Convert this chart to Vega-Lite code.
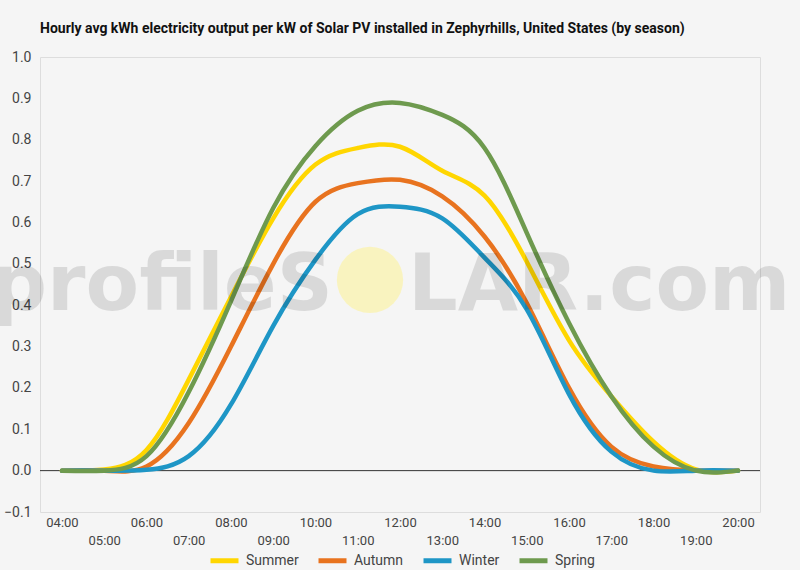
{
  "$schema": "https://vega.github.io/schema/vega-lite/v6.json",
  "width": 720,
  "height": 455,
  "autosize": "none",
  "padding": {"left": 40, "top": 57, "right": 40, "bottom": 58},
  "background": "#f5f5f5",
  "title": {
    "text": "Hourly avg kWh electricity output per kW of Solar PV installed in Zephyrhills, United States (by season)",
    "anchor": "start",
    "frame": "group",
    "font": "Roboto",
    "fontSize": 14,
    "fontWeight": "bold",
    "color": "#111111",
    "offset": 14
  },
  "datasets": {
    "solar": [
      {"hour": 4, "season": "Summer", "kwh": 0},
      {"hour": 5, "season": "Summer", "kwh": 0.003},
      {"hour": 6, "season": "Summer", "kwh": 0.05},
      {"hour": 7, "season": "Summer", "kwh": 0.22},
      {"hour": 8, "season": "Summer", "kwh": 0.42},
      {"hour": 9, "season": "Summer", "kwh": 0.61},
      {"hour": 10, "season": "Summer", "kwh": 0.74},
      {"hour": 11, "season": "Summer", "kwh": 0.78},
      {"hour": 12, "season": "Summer", "kwh": 0.783},
      {"hour": 13, "season": "Summer", "kwh": 0.725},
      {"hour": 14, "season": "Summer", "kwh": 0.665},
      {"hour": 15, "season": "Summer", "kwh": 0.505},
      {"hour": 16, "season": "Summer", "kwh": 0.315},
      {"hour": 17, "season": "Summer", "kwh": 0.18},
      {"hour": 18, "season": "Summer", "kwh": 0.07},
      {"hour": 19, "season": "Summer", "kwh": 0.003},
      {"hour": 20, "season": "Summer", "kwh": 0},
      {"hour": 4, "season": "Autumn", "kwh": 0},
      {"hour": 5, "season": "Autumn", "kwh": 0},
      {"hour": 6, "season": "Autumn", "kwh": 0.01},
      {"hour": 7, "season": "Autumn", "kwh": 0.115},
      {"hour": 8, "season": "Autumn", "kwh": 0.3},
      {"hour": 9, "season": "Autumn", "kwh": 0.5},
      {"hour": 10, "season": "Autumn", "kwh": 0.65},
      {"hour": 11, "season": "Autumn", "kwh": 0.695},
      {"hour": 12, "season": "Autumn", "kwh": 0.703},
      {"hour": 13, "season": "Autumn", "kwh": 0.663},
      {"hour": 14, "season": "Autumn", "kwh": 0.566},
      {"hour": 15, "season": "Autumn", "kwh": 0.405},
      {"hour": 16, "season": "Autumn", "kwh": 0.2},
      {"hour": 17, "season": "Autumn", "kwh": 0.058},
      {"hour": 18, "season": "Autumn", "kwh": 0.01},
      {"hour": 19, "season": "Autumn", "kwh": 0},
      {"hour": 20, "season": "Autumn", "kwh": 0},
      {"hour": 4, "season": "Winter", "kwh": 0},
      {"hour": 5, "season": "Winter", "kwh": 0},
      {"hour": 6, "season": "Winter", "kwh": 0.002},
      {"hour": 7, "season": "Winter", "kwh": 0.035},
      {"hour": 8, "season": "Winter", "kwh": 0.16},
      {"hour": 9, "season": "Winter", "kwh": 0.35},
      {"hour": 10, "season": "Winter", "kwh": 0.51},
      {"hour": 11, "season": "Winter", "kwh": 0.62},
      {"hour": 12, "season": "Winter", "kwh": 0.638},
      {"hour": 13, "season": "Winter", "kwh": 0.61},
      {"hour": 14, "season": "Winter", "kwh": 0.515},
      {"hour": 15, "season": "Winter", "kwh": 0.39},
      {"hour": 16, "season": "Winter", "kwh": 0.185},
      {"hour": 17, "season": "Winter", "kwh": 0.046},
      {"hour": 18, "season": "Winter", "kwh": 0},
      {"hour": 19, "season": "Winter", "kwh": 0},
      {"hour": 20, "season": "Winter", "kwh": 0},
      {"hour": 4, "season": "Spring", "kwh": 0},
      {"hour": 5, "season": "Spring", "kwh": 0},
      {"hour": 6, "season": "Spring", "kwh": 0.035},
      {"hour": 7, "season": "Spring", "kwh": 0.19},
      {"hour": 8, "season": "Spring", "kwh": 0.41},
      {"hour": 9, "season": "Spring", "kwh": 0.635},
      {"hour": 10, "season": "Spring", "kwh": 0.785},
      {"hour": 11, "season": "Spring", "kwh": 0.87},
      {"hour": 12, "season": "Spring", "kwh": 0.889},
      {"hour": 13, "season": "Spring", "kwh": 0.86},
      {"hour": 14, "season": "Spring", "kwh": 0.78},
      {"hour": 15, "season": "Spring", "kwh": 0.575},
      {"hour": 16, "season": "Spring", "kwh": 0.357},
      {"hour": 17, "season": "Spring", "kwh": 0.18},
      {"hour": 18, "season": "Spring", "kwh": 0.058},
      {"hour": 19, "season": "Spring", "kwh": 0},
      {"hour": 20, "season": "Spring", "kwh": 0}
    ]
  },
  "layer": [
    {
      "data": {"values": [{}]},
      "mark": {"type": "rule", "color": "#333333", "strokeWidth": 1},
      "encoding": {
        "y": {"datum": 0, "type": "quantitative", "scale": {"domain": [-0.1, 1.0]}}
      }
    },
    {
      "data": {"name": "solar"},
      "mark": {"type": "line", "interpolate": "natural", "strokeWidth": 4.5, "strokeCap": "round"},
      "encoding": {
        "x": {
          "field": "hour",
          "type": "quantitative",
          "scale": {"domain": [3.48, 20.52], "nice": false, "zero": false},
          "axis": {
            "title": null,
            "values": [4, 5, 6, 7, 8, 9, 10, 11, 12, 13, 14, 15, 16, 17, 18, 19, 20],
            "labelExpr": "(datum.value < 10 ? '0' : '') + datum.value + ':00'",
            "grid": false,
            "domain": false,
            "ticks": false,
            "labelFont": "Roboto",
            "labelFontSize": 13,
            "labelColor": "#444444",
            "labelBaseline": "top",
            "labelFlush": false,
            "labelOverlap": false,
            "labelPadding": {"condition": {"test": "datum.value % 2 == 1", "value": 22}, "value": 4}
          }
        },
        "y": {
          "field": "kwh",
          "type": "quantitative",
          "scale": {"domain": [-0.1, 1.0], "nice": false},
          "axis": {
            "title": null,
            "values": [-0.1, -0.05, 0, 0.05, 0.1, 0.15, 0.2, 0.25, 0.3, 0.35, 0.4, 0.45, 0.5, 0.55, 0.6, 0.65, 0.7, 0.75, 0.8, 0.85, 0.9, 0.95, 1.0],
            "labelExpr": "abs(round(datum.value * 100)) % 10 == 0 ? format(datum.value, '.1f') : ''",
            "domain": false,
            "ticks": false,
            "labelFont": "Roboto",
            "labelFontSize": 14,
            "labelColor": "#444444",
            "labelPadding": 9,
            "gridColor": {"condition": {"test": "abs(round(datum.value * 100)) % 10 != 0", "value": "#e2e2e2"}, "value": "#c8c8c8"},
            "gridWidth": 1
          }
        },
        "color": {
          "field": "season",
          "type": "nominal",
          "sort": ["Summer", "Autumn", "Winter", "Spring"],
          "scale": {
            "domain": ["Summer", "Autumn", "Winter", "Spring"],
            "range": ["#ffd600", "#e8731f", "#1e96c6", "#6e9a4e"]
          },
          "legend": {
            "title": null,
            "orient": "none",
            "legendX": 168,
            "legendY": 487,
            "direction": "horizontal",
            "symbolType": "stroke",
            "symbolStrokeWidth": 5,
            "symbolSize": 784,
            "labelFont": "Roboto",
            "labelFontSize": 14,
            "labelColor": "#444444",
            "labelOffset": 5,
            "columnPadding": 9
          }
        }
      }
    },
    {
      "data": {"values": [{}]},
      "mark": {"type": "text", "text": "profileS", "align": "right", "baseline": "alphabetic", "font": "DejaVu Sans", "fontWeight": "bold", "fontSize": 78, "fill": "#000000", "opacity": 0.11},
      "encoding": {
        "x": {"datum": 10.41, "type": "quantitative"},
        "y": {"datum": 0.389, "type": "quantitative"}
      }
    },
    {
      "data": {"values": [{}]},
      "mark": {"type": "point", "shape": "circle", "filled": true, "size": 4400, "fill": "#fff27f", "opacity": 0.45, "strokeWidth": 0},
      "encoding": {
        "x": {"datum": 11.29, "type": "quantitative"},
        "y": {"datum": 0.461, "type": "quantitative"}
      }
    },
    {
      "data": {"values": [{}]},
      "mark": {"type": "text", "text": "LAR.com", "align": "left", "baseline": "alphabetic", "font": "DejaVu Sans", "fontWeight": "bold", "fontSize": 78, "fill": "#000000", "opacity": 0.11},
      "encoding": {
        "x": {"datum": 12.19, "type": "quantitative"},
        "y": {"datum": 0.389, "type": "quantitative"}
      }
    }
  ]
}
